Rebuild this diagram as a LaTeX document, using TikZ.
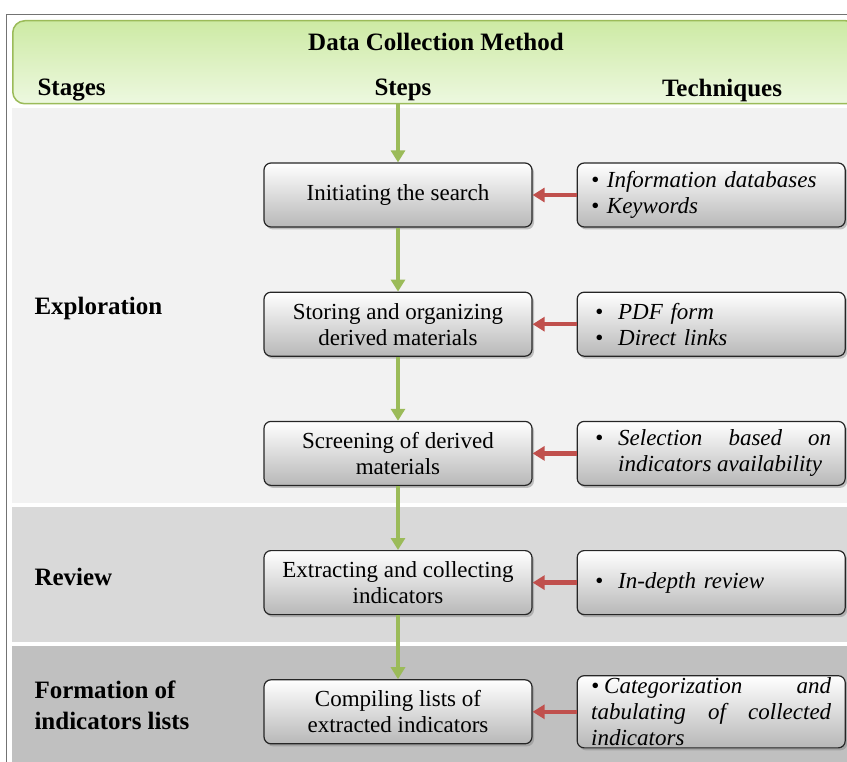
\documentclass[tikz,border=0pt]{standalone}
\usepackage{fontspec}
\setmainfont{Liberation Serif}
\usetikzlibrary{positioning,shadows,arrows.meta}
\definecolor{headgreen}{HTML}{9BBB59}
\definecolor{headfill}{HTML}{CDEAA4}
\definecolor{headfilllight}{HTML}{EDF8E0}
\definecolor{linkred}{HTML}{C0504D}
\definecolor{bandlight}{HTML}{F2F2F2}
\definecolor{bandmid}{HTML}{D9D9D9}
\definecolor{banddark}{HTML}{C0C0C0}
\hyphenpenalty=10000
\exhyphenpenalty=10000
\newcommand{\tabbul}{\makebox[27pt][l]{\hspace{4pt}\textbullet}}
\tikzset{
  stepbox/.style={draw=black!85, line width=1.2pt, rounded corners=7pt,
    minimum width=268pt, minimum height=64pt, inner ysep=2pt,
    top color=white, bottom color=black!28,
    drop shadow={shadow xshift=2pt, shadow yshift=-2.5pt, opacity=0.45},
    align=center, font=\fontsize{23}{26}\selectfont},
  techbox/.style={stepbox, text width=240pt, align=left,
    font=\fontsize{23}{26}\selectfont\itshape},
  headlabel/.style={font=\fontsize{25}{31}\selectfont\bfseries},
  stagelabel/.style={headlabel, anchor=west, align=left},
  flowarrow/.style={draw=headgreen, line width=4.5pt, -{Triangle[width=14pt,length=12pt]}},
  linkarrow/.style={draw=linkred, line width=4.5pt, -{Triangle[width=14pt,length=12pt]}},
}

\begin{document}
\begin{tikzpicture}[x=1pt,y=-1pt]
    \useasboundingbox (0,0) rectangle (847,762);
    \draw[black!55, line width=0.8pt] (6,762) -- (6,14) -- (847,14);

    % stage bands
    \fill[bandlight] (12,108) rectangle (850,503);
    \fill[bandmid] (12,507) rectangle (850,642);
    \fill[banddark] (12,646) rectangle (850,765);

    % header
    \node[draw=headgreen, line width=1.5pt, rounded corners=12pt, top color=headfill,
          bottom color=headfilllight, minimum width=845pt, minimum height=83pt,
          anchor=north west] (head) at (12,20) {};
    \node[headlabel] (title) at (436,42) {Data Collection Method};
    \node[headlabel, anchor=west] (stages) at (34,90) {Stages};
    \node[headlabel] (steps) at (403,90) {Steps};
    \node[headlabel] (techniques) at (722,90) {Techniques};

    % stage names
    \node[stagelabel] (exploration) at (31,308) {Exploration};
    \node[stagelabel] (review) at (31,577) {Review};
    \node[stagelabel] (formation) at (31,705) {Formation of\\indicators lists};

    % steps
    \node[stepbox] (s1) at (398,195) {Initiating the search};
    \node[stepbox, below=64pt of s1] (s2) {Storing and organizing\\derived materials};
    \node[stepbox, below=64pt of s2] (s3) {Screening of derived\\materials};
    \node[stepbox, below=64pt of s3] (s4) {Extracting and collecting\\indicators};
    \node[stepbox, below=64pt of s4] (s5) {Compiling lists of\\extracted indicators};

    % techniques
    \node[techbox, right=44pt of s1] (t1) {\textbullet\ Information databases\\\textbullet\ Keywords};
    \node[techbox, right=44pt of s2] (t2) {\tabbul PDF form\\\tabbul Direct links};
    \node[techbox, align=justify, right=44pt of s3] (t3)
        {\noindent\tabbul\parbox[t]{213pt}{\spaceskip=0pt\xspaceskip=0pt\rightskip=0pt
         \parfillskip=0pt plus 1fil Selection based on indicators availability}};
    \node[techbox, right=44pt of s4] (t4) {\tabbul In-depth review};
    \node[techbox, align=justify, right=44pt of s5] (t5)
        {\noindent\textbullet\hspace{5pt}Categorization and tabulating of collected indicators};

    \draw[flowarrow] (head.south -| s1.north) -- (s1.north);
    \foreach \a/\b in {s1/s2,s2/s3,s3/s4,s4/s5}
        \draw[flowarrow] (\a) -- (\b);
    \foreach \i in {1,...,5}
        \draw[linkarrow] (t\i) -- (s\i);
\end{tikzpicture}
\end{document}
